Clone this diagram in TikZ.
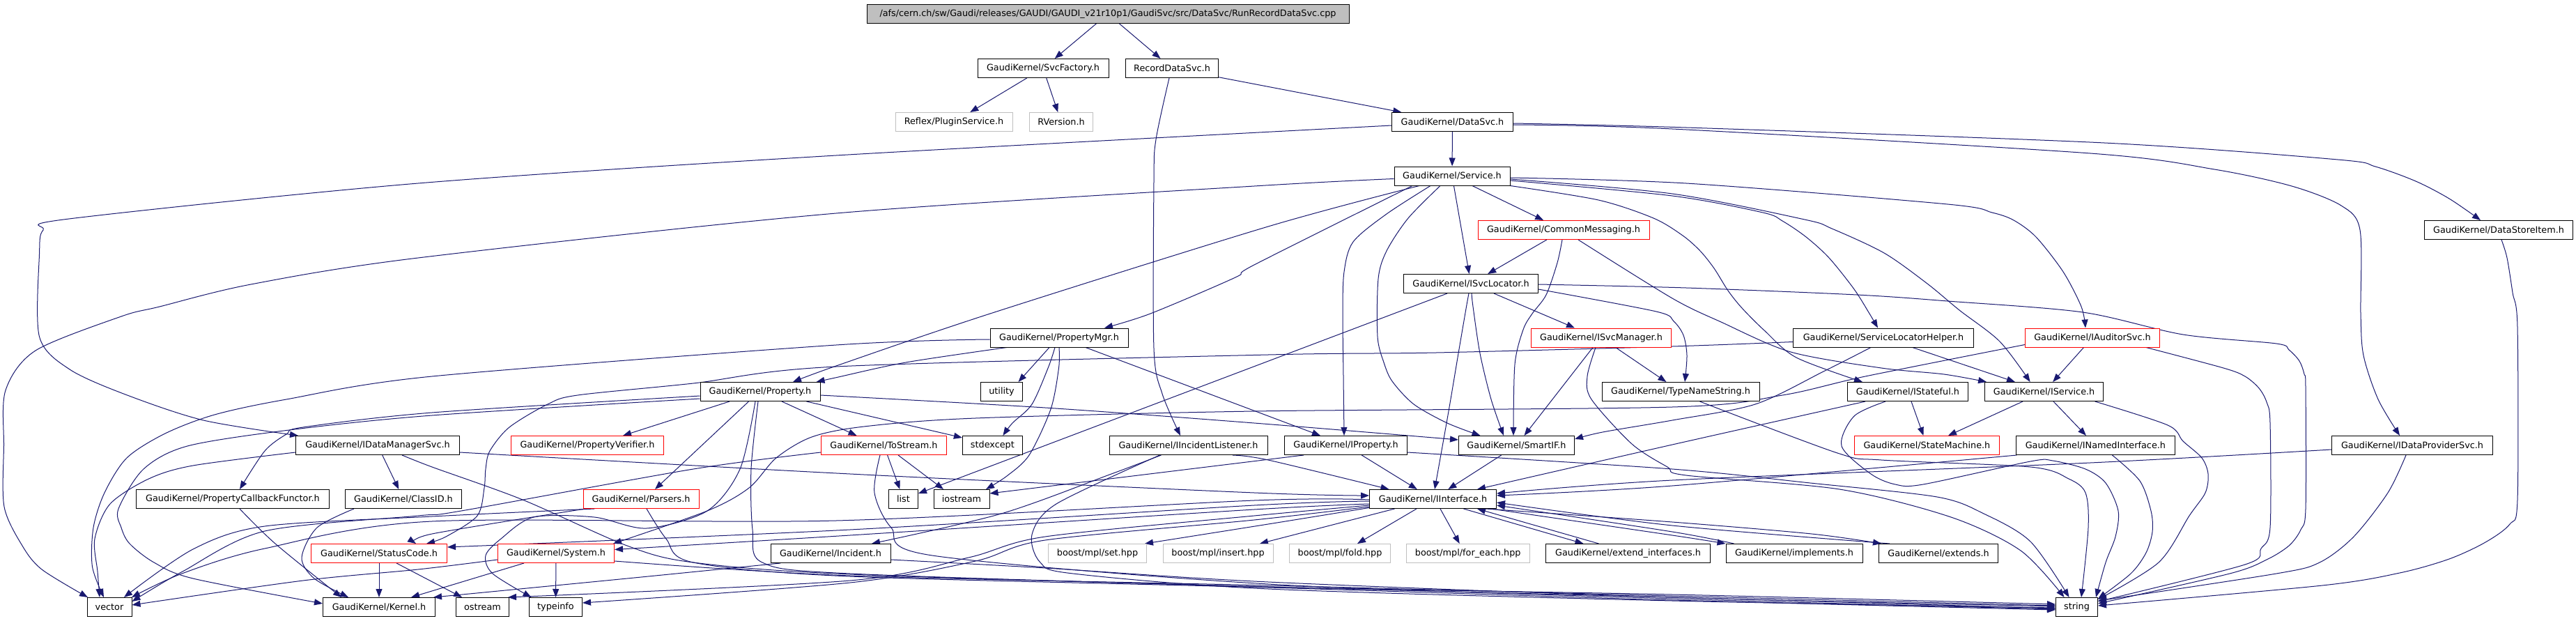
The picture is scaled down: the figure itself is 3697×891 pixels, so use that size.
\documentclass[tikz,border=0pt]{standalone}
\usepackage{fontspec}
\setmainfont{DejaVu Sans}
\usetikzlibrary{arrows.meta,backgrounds}
\definecolor{edgec}{HTML}{191970}
\definecolor{rootg}{HTML}{BFBFBF}
\definecolor{extg}{HTML}{BFBFBF}
\definecolor{trunc}{HTML}{FF0000}
\pgfdeclarelayer{bottom}
\pgfsetlayers{bottom,background,main}
\begin{document}
\begin{tikzpicture}[x=1pt,y=-1pt,
  box/.style={draw=black, fill=white, line width=1pt, minimum height=27pt, inner xsep=3pt, inner ysep=0pt, font=\fontsize{12.8}{15}\selectfont, anchor=center},
  redbox/.style={box, draw=trunc},
  graybox/.style={box, draw=extg},
  rootbox/.style={box, fill=rootg},
  edg/.style={draw=edgec, line width=1pt, -{Triangle[length=12pt,width=9pt]}},
]
\useasboundingbox (0,0) rectangle (3697,891);
\begin{pgfonlayer}{bottom}
\fill[white] (0,0) rectangle (3697,891);
\end{pgfonlayer}

% ---------- nodes ----------
\node[rootbox,minimum width=692pt] (root) at (1590,20) {/afs/cern.ch/sw/Gaudi/releases/GAUDI/GAUDI\_v21r10p1/GaudiSvc/src/DataSvc/RunRecordDataSvc.cpp};
\node[box,minimum width=188pt] (svcf) at (1497,98) {GaudiKernel/SvcFactory.h};
\node[box,minimum width=133pt] (rds) at (1682,98) {RecordDataSvc.h};
\node[graybox,minimum width=168pt] (plugin) at (1369,175) {Reflex/PluginService.h};
\node[graybox,minimum width=91pt] (rver) at (1523,175) {RVersion.h};
\node[box,minimum width=174pt] (datasvc) at (2084.5,175) {GaudiKernel/DataSvc.h};
\node[box,minimum width=166pt] (service) at (2084,252.5) {GaudiKernel/Service.h};
\node[redbox,minimum width=246pt] (commsg) at (2244,330) {GaudiKernel/CommonMessaging.h};
\node[box,minimum width=213pt] (dsi) at (3586,330) {GaudiKernel/DataStoreItem.h};
\node[box,minimum width=193pt] (isl) at (2111,407) {GaudiKernel/ISvcLocator.h};
\node[box,minimum width=198pt] (pmgr) at (1520,484.5) {GaudiKernel/PropertyMgr.h};
\node[redbox,minimum width=201pt] (isvcm) at (2298,484.5) {GaudiKernel/ISvcManager.h};
\node[box,minimum width=259pt] (slh) at (2703,484.5) {GaudiKernel/ServiceLocatorHelper.h};
\node[redbox,minimum width=193pt] (iaud) at (3003,484.5) {GaudiKernel/IAuditorSvc.h};
\node[box,minimum width=172pt] (prop) at (1091,562) {GaudiKernel/Property.h};
\node[box,minimum width=60pt] (util) at (1437.5,562) {utility};
\node[box,minimum width=226pt] (tns) at (2412,562) {GaudiKernel/TypeNameString.h};
\node[box,minimum width=173pt] (istate) at (2738,562) {GaudiKernel/IStateful.h};
\node[box,minimum width=170pt] (iserv) at (2933.6,562) {GaudiKernel/IService.h};
\node[box,minimum width=235pt] (idm) at (542,639) {GaudiKernel/IDataManagerSvc.h};
\node[redbox,minimum width=219pt] (pverif) at (843,639) {GaudiKernel/PropertyVerifier.h};
\node[redbox,minimum width=180pt] (tostream) at (1268.5,639) {GaudiKernel/ToStream.h};
\node[box,minimum width=86pt] (stdexc) at (1424.4,639) {stdexcept};
\node[box,minimum width=227pt] (iil) at (1705.5,639) {GaudiKernel/IIncidentListener.h};
\node[box,minimum width=176pt] (iprop) at (1931.5,639) {GaudiKernel/IProperty.h};
\node[box,minimum width=166pt] (smartif) at (2176.5,639) {GaudiKernel/SmartIF.h};
\node[redbox,minimum width=208pt] (statem) at (2765.4,639) {GaudiKernel/StateMachine.h};
\node[box,minimum width=228pt] (inamed) at (3007.4,639) {GaudiKernel/INamedInterface.h};
\node[box,minimum width=231pt] (idp) at (3462,639) {GaudiKernel/IDataProviderSvc.h};
\node[box,minimum width=277pt] (pcf) at (334,716) {GaudiKernel/PropertyCallbackFunctor.h};
\node[box,minimum width=167pt] (classid) at (579,716) {GaudiKernel/ClassID.h};
\node[redbox,minimum width=166pt] (parsers) at (920,716) {GaudiKernel/Parsers.h};
\node[box,minimum width=42pt] (list) at (1296.5,716) {list};
\node[box,minimum width=80pt] (iostream) at (1380,716) {iostream};
\node[box,minimum width=182pt] (iintf) at (2056.5,716) {GaudiKernel/IInterface.h};
\node[redbox,minimum width=195pt] (statusc) at (544,794) {GaudiKernel/StatusCode.h};
\node[redbox,minimum width=167pt] (system) at (798,794) {GaudiKernel/System.h};
\node[box,minimum width=172pt] (incident) at (1192,794) {GaudiKernel/Incident.h};
\node[graybox,minimum width=141pt] (mset) at (1575,794) {boost/mpl/set.hpp};
\node[graybox,minimum width=158pt] (minsert) at (1748,794) {boost/mpl/insert.hpp};
\node[graybox,minimum width=145pt] (mfold) at (1923,794) {boost/mpl/fold.hpp};
\node[graybox,minimum width=177pt] (mforeach) at (2106.7,794) {boost/mpl/for\_each.hpp};
\node[box,minimum width=236pt] (extif) at (2336.5,794) {GaudiKernel/extend\_interfaces.h};
\node[box,minimum width=196pt] (impl) at (2575,794) {GaudiKernel/implements.h};
\node[box,minimum width=171pt] (ext) at (2782,794) {GaudiKernel/extends.h};
\node[box,minimum width=64pt] (vector) at (157,871) {vector};
\node[box,minimum width=161pt] (kernel) at (544,871) {GaudiKernel/Kernel.h};
\node[box,minimum width=76pt] (ostream) at (692.5,871) {ostream};
\node[box,minimum width=76pt] (typeinfo) at (797.5,871) {typeinfo};
\node[box,minimum width=60pt] (string) at (2980.5,871) {string};

% ---------- edges ----------
\begin{pgfonlayer}{background}
\draw[edg] (root) -- (svcf);
\draw[edg] (root) -- (rds);
\draw[edg] (svcf) -- (plugin);
\draw[edg] (svcf) -- (rver);
\draw[edg] (rds) -- (datasvc);
\draw[edg] plot[smooth] coordinates {([xshift=-4pt]rds.south) (1659,200) (1656,260) (1656,500) (1668,565) ([xshift=-11.5pt]iil.north)};
\draw[edg] (datasvc) -- (service);
\draw[edg] plot[smooth] coordinates {([yshift=-5pt]datasvc.west) (1200,223) (600,263) (99,314) (62,330) (56.5,365) (56.5,483) (100,530) (180,566) (292,603) ([xshift=-114pt]idm.north)};
\draw[edg] plot[smooth] coordinates {([yshift=-2pt]datasvc.east) (2420,183) (3020,205) (3355,229) (3409,239) (3467,260) (3515,285) ([xshift=-26pt]dsi.north)};
\draw[edg] plot[smooth] coordinates {([yshift=-4pt]datasvc.east) (2400,185) (3000,220) (3178,243) (3289,267) (3360,295) (3387,330) (3388,450) (3392,510) (3413,573) ([xshift=-18pt]idp.north)};
\draw[edg] plot[smooth] coordinates {([xshift=4pt]dsi.south) (3598,370) (3606,420) (3613,470) (3613,717) (3602,752) (3567,778) (3515,802) (3444,822) (3333,840) ([yshift=2pt]string.east)};
% Service
\draw[edg] plot[smooth] coordinates {([yshift=-4pt]service.west) (1800,267) (1200,306) (600,370) (360,408) (229,440) (174,454) (51,503) (8,560) (5.5,640) (6,727) (32,783) (60,817) ([xshift=-31pt]vector.north)};
\draw[edg] plot[smooth] coordinates {([xshift=-47pt]service.south) (1820,325) (1421,450) (1200,525) ([xshift=47pt]prop.north)};
\draw[edg] plot[smooth] coordinates {([xshift=-57pt]service.south) (1800,380) (1773,398) (1651,450) ([xshift=65pt]pmgr.north)};
\draw[edg] plot[smooth] coordinates {([xshift=-31pt]service.south) (1990,307) (1942,347) (1929,390) (1927,450) (1928,540) ([xshift=-2.5pt]iprop.north)};
\draw[edg] plot[smooth] coordinates {([xshift=-17pt]service.south) (2021,313) (1990,360) (1978,400) (1977,483) (1986,520) (1998,547) (2029,580) (2077,607) ([xshift=-52pt]smartif.north)};
\draw[edg] (service) -- (isl);
\draw[edg] (service) -- (commsg);
\draw[edg] plot[smooth] coordinates {([yshift=-2.5pt]service.east) (2420,263) (2795,293) (2859,305) (2890,316) (2922,340) (2961,390) (2987,440) ([xshift=-10pt]iaud.north)};
\draw[edg] plot[smooth] coordinates {([yshift=-4.5pt]service.east) (2400,278) (2590,315) (2629,328) (2704,363) (2766,407) (2812,445) (2870,490) ([xshift=-20pt]iserv.north)};
\draw[edg] plot[smooth] coordinates {([yshift=-6.5pt]service.east) (2400,281) (2530,305) (2558,317) (2592,340) (2625,370) (2661,415) (2683,450) ([xshift=-8pt]slh.north)};
\draw[edg] plot[smooth] coordinates {(service.south east) (2294,287) (2373,313) (2415,338) (2440,360) (2460,385) (2480,417) (2500,442) (2532,474) (2578,513) ([xshift=-65pt]istate.north)};
% CommonMessaging
\draw[edg] (commsg) -- (isl);
\draw[edg] plot[smooth] coordinates {([xshift=-2pt]commsg.south) (2235,377) (2219,423) (2199,450) (2186,473) (2174,523) ([xshift=-4.5pt]smartif.north)};
\draw[edg] plot[smooth] coordinates {([xshift=21pt]commsg.south) (2400,428) (2470,462) (2570,505) (2700,528) (2790,537) ([xshift=3pt]iserv.north west)};
% ISvcLocator
\draw[edg] ([xshift=-34pt]isl.south) -- ([yshift=8pt]list.east);
\draw[edg] plot[smooth] coordinates {([xshift=-3pt]isl.south) (2104.5,440) (2093,507) (2079,590) ([xshift=2.5pt]iintf.north)};
\draw[edg] plot[smooth] coordinates {([xshift=1pt]isl.south) (2114,440) (2124,507) (2140,573) ([xshift=-18.5pt]smartif.north)};
\draw[edg] ([xshift=33pt]isl.south) -- ([xshift=-38pt]isvcm.north);
\draw[edg] plot[smooth] coordinates {([yshift=-8pt]isl.east) (2377,447) (2402,461) (2416,481) (2421,510) ([xshift=6pt]tns.north)};
\draw[edg] plot[smooth] coordinates {([yshift=-1pt]isl.east) (2420,413) (2665,423) (2795,432) (2989,448) (3133,480) (3267,493) (3285,502) (3300,518) (3307,537) (3309,557) (3309,730) (3302,760) (3285,783) (3253,803) (3200,823) ([yshift=5pt]string.east)};
% PropertyMgr
\draw[edg] plot[smooth] coordinates {([yshift=-2.5pt]pmgr.west) (1200,495) (620,540) (411,573) (308,595) (237,622) (182,657) (150,707) (134,757) (132.5,813) ([xshift=-8pt]vector.north)};
\draw[edg] ([xshift=-14pt]pmgr.south) -- ([xshift=24pt]util.north);
\draw[edg] plot[smooth] coordinates {([xshift=-6pt]pmgr.south) (1504.5,527) (1481,580) (1453,607) ([xshift=15pt]stdexc.north)};
\draw[edg] plot[smooth] coordinates {(pmgr.south) (1519.5,528) (1508,587) (1477,653) (1445,683) ([xshift=35pt]iostream.north)};
\draw[edg] plot[smooth] coordinates {([xshift=-75pt]pmgr.south) (1300,520) (1200,541.7) ([xshift=-6pt]prop.north east)};
\draw[edg] ([xshift=38pt]pmgr.south) -- ([xshift=-36.5pt]iprop.north);
% Property
\draw[edg] ([xshift=-44pt]prop.south) -- ([xshift=51pt]pverif.north);
\draw[edg] ([xshift=-16.5pt]prop.south) -- ([xshift=20pt]parsers.north);
\draw[edg] ([xshift=31pt]prop.south) -- ([xshift=-39pt]tostream.north);
\draw[edg] ([xshift=66.5pt]prop.south) -- ([yshift=-3pt]stdexc.north west);
\draw[edg] plot[smooth] coordinates {([yshift=-5pt]prop.east) (1500,585) (1800,607) ([yshift=8pt]smartif.west)};
\draw[edg] plot[smooth] coordinates {([yshift=-6pt]prop.west) (620,592) (435,613) (411,623) (380,647) ([xshift=10pt]pcf.north)};
\draw[edg] plot[smooth] coordinates {([yshift=-10pt]prop.west) (620,596) (415,617) (269,640) (206,673) (170,730) (174,757) (186,780) (221,807) (277,830) ([yshift=5pt]kernel.west)};
\draw[edg] plot[smooth] coordinates {([xshift=-3pt]prop.south) (1078,673) (1080,760) (1094,807) (1220,823) (1820,842) (2400,853) ([yshift=4pt]string.west)};
\draw[edg] plot[smooth] coordinates {([xshift=-7pt]prop.south) (1062,673) (1015,733) (928,758) (853,742) (766,742) (719,773) (697,797) (707,823) ([xshift=-35pt]typeinfo.north)};
% IProperty, SmartIF
\draw[edg] (iprop) -- (iintf);
\draw[edg] plot[smooth] coordinates {([yshift=-10pt]iprop.east) (2400,673) (2598,693) (2780,713) (2847,737) (2914,777) ([xshift=-11pt]string.north)};
\draw[edg] ([xshift=-60.5pt]iprop.south) -- ([yshift=8pt]iostream.east);
\draw[edg] (smartif) -- (iintf);
% ISvcManager, TypeNameString
\draw[edg] ([xshift=-12pt]isvcm.south) -- ([xshift=11pt]smartif.north);
\draw[edg] (isvcm) -- (tns);
\draw[edg] plot[smooth] coordinates {([xshift=-8pt]isvcm.south) (2278,540) (2284,573) (2342,637) (2393,670) (2420,682) (2640,702) (2800,742) (2900,790) ([xshift=-18pt]string.north)};
\draw[edg] plot[smooth] coordinates {([xshift=27.5pt]tns.south) (2637,650) (2700,660) (2914,670) (2969,687) (2993,707) (2997,757) ([xshift=6.5pt]string.north)};
% ServiceLocatorHelper
\draw[edg] (slh) -- (iserv);
\draw[edg] plot[smooth] coordinates {([xshift=-18pt]slh.south) (2617,533) (2519,580) (2400,603) (2300,620) ([yshift=9pt]smartif.east)};
\draw[edg] plot[smooth] coordinates {([yshift=-6pt]slh.west) (2400,497) (2061,506) (1820,509) (1200,526) (995,550) (829,567) (786,580) (731,613) (703,647) (697,673) (695,700) (685,740) (640,770) ([xshift=68pt]statusc.north)};
% IAuditorSvc
\draw[edg] (iaud) -- (iserv);
\draw[edg] plot[smooth] coordinates {([xshift=77pt]iaud.south) (3191,528) (3222,540) (3242,557) (3253,577) (3258,607) (3258,757) (3245,787) (3222,810) ([yshift=8pt]string.east)};
\draw[edg] plot[smooth] coordinates {([yshift=-10pt]iaud.west) (2677,540) (2558,567) (2400,584) (1800,590) (1400,600) (1240,612) (1165,627) (1114,657) (1075,700) (1015,733) ([xshift=-2pt]system.north east)};
% IStateful, IService, INamedInterface, IDataProviderSvc
\draw[edg] (istate) -- (statem);
\draw[edg] plot[smooth] coordinates {([xshift=-61pt]istate.south) (2400,638) ([xshift=63.5pt]iintf.north)};
\draw[edg] plot[smooth] coordinates {([xshift=-32pt]istate.south) (2661,597) (2643,640) (2685,680) (2720,695) (2760,695) (2914,662) (2946,661) (2993,673) (3022,693) (3040,733) (3036,770) (3022,807) ([xshift=-3pt]string.north east)};
\draw[edg] (iserv) -- (statem);
\draw[edg] (iserv) -- (inamed);
\draw[edg] plot[smooth] coordinates {([xshift=73pt]iserv.south) (3111,610) (3133,633) (3160,657) (3169,680) (3165,707) (3142,740) (3098,807) ([yshift=11pt]string.east)};
\draw[edg] plot[smooth] coordinates {([xshift=-113pt]inamed.south) (2400,697) ([yshift=5pt]iintf.east)};
\draw[edg] plot[smooth] coordinates {([xshift=24pt]inamed.south) (3071,690) (3087,733) (3089,763) (3080,793) (3058,823) ([yshift=12pt]string.east)};
\draw[edg] plot[smooth] coordinates {([yshift=-6pt]idp.west) (3000,664) (2400,689) ([yshift=8pt]iintf.east)};
\draw[edg] plot[smooth] coordinates {([xshift=-9pt]idp.south) (3427,707) (3378,770) (3329,807) (3267,823) ([yshift=9pt]string.east)};
% IIncidentListener, Incident
\draw[edg] plot[smooth] coordinates {([xshift=-39pt]iil.south) (1595,680) (1437,737) ([xshift=59pt]incident.north)};
\draw[edg] plot[smooth] coordinates {([xshift=63.5pt]iil.south) (1820,660) ([xshift=-63pt]iintf.north)};
\draw[edg] plot[smooth] coordinates {([xshift=-41pt]iil.south) (1516,723) (1481,767) (1493,807) (1540,823) (1820,845) (2400,862) ([yshift=-1pt]string.west)};
\draw[edg] plot[smooth] coordinates {([xshift=-72pt]incident.south) (900,830) ([xshift=-3pt]kernel.north east)};
\draw[edg] plot[smooth] coordinates {([yshift=-9pt]incident.east) (1500,815) (1820,835) (2400,857) ([yshift=1pt]string.west)};
% ToStream
\draw[edg] (tostream) -- (list);
\draw[edg] ([xshift=20.5pt]tostream.south) -- ([xshift=-26pt]iostream.north);
\draw[edg] plot[smooth] coordinates {([xshift=-5.5pt]tostream.south) (1255,707) (1279,757) (1338,797) (1820,838) (2400,859) ([yshift=-3pt]string.west)};
\draw[edg] plot[smooth] coordinates {([yshift=-10pt]tostream.west) (995,673) (662,733) (600,740) (380,762) (262,820) ([yshift=8pt]vector.east)};
% Parsers
\draw[edg] plot[smooth] coordinates {([xshift=-67pt]parsers.south) (620,741) (380,755) (277,788) ([xshift=21pt]vector.north)};
\draw[edg] plot[smooth] coordinates {([xshift=-80pt]parsers.south) (620,766) ([xshift=53pt]statusc.north)};
\draw[edg] plot[smooth] coordinates {([xshift=8pt]parsers.south) (956,773) (995,807) (1220,827) (1820,843) (2400,861) ([yshift=-4pt]string.west)};
% System, StatusCode
\draw[edg] (system) -- (typeinfo);
\draw[edg] ([xshift=-46pt]system.south) -- ([xshift=46pt]kernel.north);
\draw[edg] plot[smooth] coordinates {([yshift=-9pt]system.west) (600,817) (435,833) ([yshift=3pt]vector.east)};
\draw[edg] plot[smooth] coordinates {([yshift=-11pt]system.east) (1220,826) (1820,840) (2400,855) ([yshift=2pt]string.west)};
\draw[edg] (statusc) -- (kernel);
\draw[edg] ([xshift=25pt]statusc.south) -- ([xshift=-29.5pt]ostream.north);
% ClassID, PropertyCallbackFunctor, IDataManagerSvc
\draw[edg] plot[smooth] coordinates {([xshift=-71pt]classid.south) (455,757) (433,800) (451,830) ([xshift=-44pt]kernel.north)};
\draw[edg] plot[smooth] coordinates {([xshift=10pt]pcf.south) (395,780) ([xshift=-54pt]kernel.north)};
\draw[edg] (idm) -- (classid);
\draw[edg] plot[smooth] coordinates {([yshift=-10pt]idm.west) (277,668) (213.5,687) (158,723) (136,773) (140,820) ([xshift=-14pt]vector.north)};
\draw[edg] plot[smooth] coordinates {([yshift=-10pt]idm.east) (1220,680) (1800,707) ([yshift=5pt]iintf.west)};
\draw[edg] plot[smooth] coordinates {([xshift=35pt]idm.south) (620,670) (750,717) (900,783) (995,807) (1220,824) (1820,842) (2400,857) ([yshift=-2pt]string.west)};
% IInterface
\draw[edg] plot[smooth] coordinates {([yshift=-3pt]iintf.west) (1800,725) (1220,760) ([yshift=9pt]statusc.east)};
\draw[edg] plot[smooth] coordinates {([yshift=-7pt]iintf.west) (1800,731) (1220,768) ([yshift=5.5pt]system.east)};
\draw[edg] plot[smooth] coordinates {([yshift=-1pt]iintf.west) (1800,718) (1200,747) (620,748) (380,787) (261,823) ([xshift=32pt]vector.north)};
\draw[edg] plot[smooth] coordinates {([yshift=-9pt]iintf.west) (1800,740) (1500,770) (1390,800) (1220,833) ([xshift=-2pt]ostream.north east)};
\draw[edg] plot[smooth] coordinates {([yshift=-11pt]iintf.west) (1800,746) (1500,775) (1400,805) (1220,836) ([yshift=6pt]typeinfo.east)};
\draw[edg] plot[smooth] coordinates {([yshift=-12.5pt]iintf.west) (1820,752) ([xshift=-3pt]mset.north east)};
\draw[edg] ([xshift=-55pt]iintf.south) -- ([xshift=60pt]minsert.north);
\draw[edg] ([xshift=-23.5pt]iintf.south) -- ([xshift=25pt]mfold.north);
\draw[edg] ([xshift=10.5pt]iintf.south) -- ([xshift=-12pt]mforeach.north);
\draw[edg] ([xshift=44pt]iintf.south) -- ([xshift=-64pt]extif.north);
\draw[edg] ([xshift=-42pt]extif.north) -- ([xshift=63.5pt]iintf.south);
\draw[edg] plot[smooth] coordinates {([xshift=-8pt]iintf.south east) (2400,768) (impl.north west)};
\draw[edg] plot[smooth] coordinates {([xshift=12pt]impl.north west) (2400,763) ([yshift=-9pt]iintf.east)};
\draw[edg] plot[smooth] coordinates {([xshift=-16pt]iintf.south east) (2400,749) (2600,766) ([xshift=4pt]ext.north west)};
\draw[edg] plot[smooth] coordinates {([xshift=16pt]ext.north west) (2400,754) ([yshift=-5pt]iintf.east)};
\end{pgfonlayer}
\end{tikzpicture}
\end{document}
